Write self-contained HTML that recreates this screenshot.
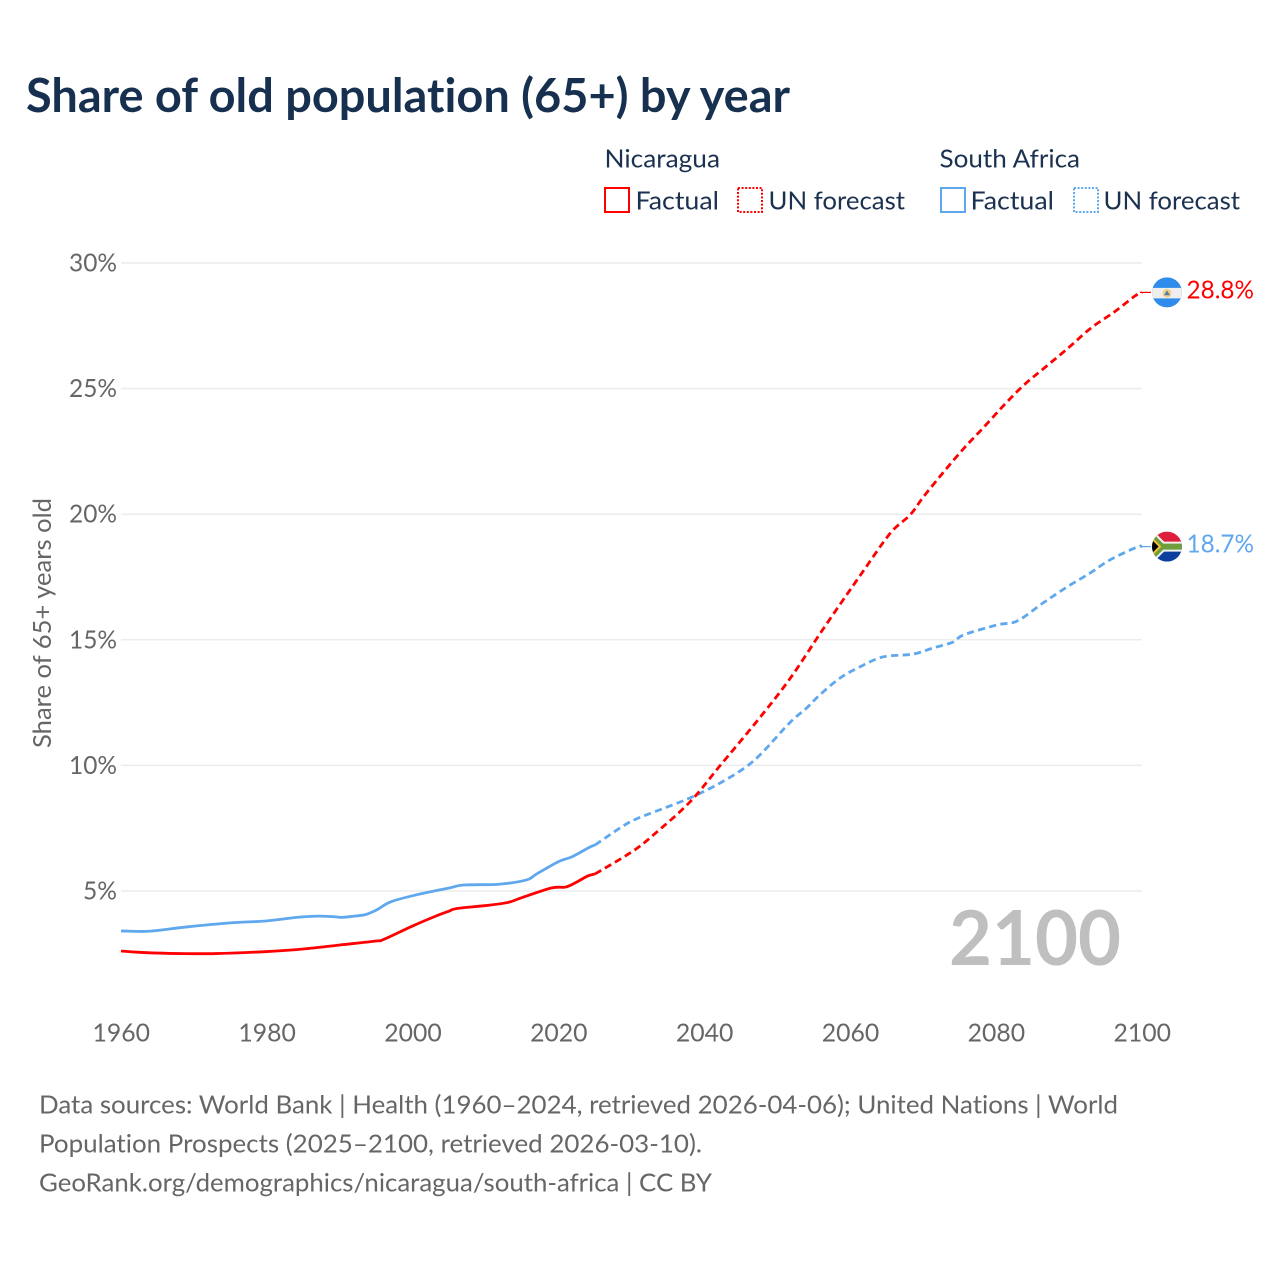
<!DOCTYPE html>
<html lang="en">
<head>
<meta charset="utf-8">
<title>Share of old population (65+) by year</title>
<style>
html,body{margin:0;padding:0;background:#fff;}
svg{display:block;font-family:"Lato","Carlito","Liberation Sans",sans-serif;font-variant-ligatures:none;}
.ink{fill:#1a3150;}
.muted{fill:#666;}
</style>
</head>
<body>
<svg id="chart" width="1280" height="1280" viewBox="0 0 1280 1280" xmlns="http://www.w3.org/2000/svg">
  <defs>
    <clipPath id="flag-clip"><circle cx="0" cy="0" r="15"></circle></clipPath>
  </defs>
  <rect x="0" y="0" width="1280" height="1280" fill="#fff"></rect>
  <text x="26" y="112" font-size="46.5" font-weight="700" fill="#17304f" textLength="764" lengthAdjust="spacingAndGlyphs">Share of old population (65+) by year</text>

  <g font-size="25.5" class="ink">
    <text x="604.5" y="167.5" textLength="115.5" lengthAdjust="spacingAndGlyphs">Nicaragua</text>
    <text x="939.5" y="167.5" textLength="140.5" lengthAdjust="spacingAndGlyphs">South Africa</text>
    <g>
      <rect x="605" y="188" width="24" height="24" fill="none" stroke="#ff0000" stroke-width="2"></rect>
      <text x="635.5" y="209.5" textLength="83.5" lengthAdjust="spacingAndGlyphs">Factual</text>
    </g>
    <g>
      <rect x="738" y="188" width="24" height="24" fill="none" stroke="#ff0000" stroke-width="2" stroke-dasharray="2 1.6"></rect>
      <text x="768.5" y="209.5" textLength="136.5" lengthAdjust="spacingAndGlyphs">UN forecast</text>
    </g>
    <g>
      <rect x="941" y="188" width="24" height="24" fill="none" stroke="#5fa8ee" stroke-width="2"></rect>
      <text x="970.5" y="209.5" textLength="83.5" lengthAdjust="spacingAndGlyphs">Factual</text>
    </g>
    <g>
      <rect x="1074" y="188" width="24" height="24" fill="none" stroke="#5fa8ee" stroke-width="2" stroke-dasharray="2 1.6"></rect>
      <text x="1103.5" y="209.5" textLength="136.5" lengthAdjust="spacingAndGlyphs">UN forecast</text>
    </g>
  </g>

  <g id="grid"></g>
  <g id="y-ticks" font-size="25.5" class="muted"></g>
  <g id="x-ticks" font-size="25.5" class="muted"></g>
  <text transform="translate(51,748) rotate(-90)" font-size="25.5" class="muted" textLength="250" lengthAdjust="spacingAndGlyphs">Share of 65+ years old</text>
  <text x="949" y="965" font-size="76" font-weight="700" fill="#bfbfbf" textLength="172" lengthAdjust="spacingAndGlyphs">2100</text>

  <g id="series"></g>

  <g id="flag-nicaragua">
    <g clip-path="url(#flag-clip)">
      <rect x="-15" y="-15" width="30" height="30" fill="#2f8ceb"></rect>
      <rect x="-15" y="-4.5" width="30" height="10.5" fill="#eeeeee"></rect>
      <circle cx="0" cy="0.8" r="4.4" fill="#f3cf84"></circle>
      <polygon points="-3,2.8 3,2.8 0,-2" fill="#4d7fa8"></polygon>
    </g>
  </g>
  <g id="flag-south-africa">
    <g clip-path="url(#flag-clip)">
      <rect x="-15" y="-15" width="30" height="15" fill="#de1f3c"></rect>
      <rect x="-15" y="0" width="30" height="15" fill="#0a3f9e"></rect>
      <path d="M-19,-14 L-5,0 L-19,14 M-5,0 L18,0" fill="none" stroke="#f1f1f1" stroke-width="10"></path>
      <path d="M-19,-14 L-5,0 L-19,14 M-5,0 L18,0" fill="none" stroke="#6f9e3e" stroke-width="6"></path>
      <polygon points="-16,-9 -7,0 -16,9" fill="#000" stroke="#f0c52e" stroke-width="2"></polygon>
    </g>
  </g>
  <text id="label-nicaragua" font-size="25.5" fill="#ff0000"></text>
  <text id="label-south-africa" font-size="25.5" fill="#5fa8ee"></text>

  <g font-size="25.5" class="muted">
    <text x="39" y="1113.5" textLength="1079" lengthAdjust="spacingAndGlyphs">Data sources: World Bank | Health (1960–2024, retrieved 2026-04-06); United Nations | World</text>
    <text x="39" y="1152.5" textLength="663" lengthAdjust="spacingAndGlyphs">Population Prospects (2025–2100, retrieved 2026-03-10).</text>
    <text x="39" y="1191.5" textLength="673" lengthAdjust="spacingAndGlyphs">GeoRank.org/demographics/nicaragua/south-africa | CC BY</text>
  </g>
</svg>

<script>
const yTickValues = [5, 10, 15, 20, 25, 30];
const xTickValues = [1960, 1980, 2000, 2020, 2040, 2060, 2080, 2100];

const nicaraguaFactualYears = [1960, 1962, 1965, 1968, 1973, 1980, 1985, 1990, 1995, 1996, 2000, 2003, 2005, 2006, 2010, 2013, 2015, 2019, 2021, 2022.5, 2024, 2025];
const nicaraguaFactualValues = [2.61, 2.57, 2.53, 2.51, 2.51, 2.59, 2.69, 2.85, 3.01, 3.07, 3.61, 3.98, 4.2, 4.3, 4.42, 4.54, 4.74, 5.12, 5.16, 5.36, 5.6, 5.68];
const nicaraguaForecastYears = [2025, 2030, 2033, 2038, 2042, 2047, 2051.6, 2056, 2059, 2061.6, 2065.5, 2068.2, 2070, 2072.8, 2075.6, 2078.2, 2081.1, 2083.8, 2086.6, 2089.9, 2093, 2096.2, 2099, 2100];
const nicaraguaForecastValues = [5.68, 6.55, 7.23, 8.54, 9.94, 11.69, 13.4, 15.31, 16.58, 17.66, 19.25, 19.97, 20.68, 21.68, 22.63, 23.43, 24.35, 25.14, 25.82, 26.62, 27.41, 28.05, 28.68, 28.83];

const southAfricaFactualYears = [1960, 1963, 1965, 1969, 1975, 1980, 1984.4, 1987, 1989, 1990.3, 1992, 1993.5, 1995, 1997, 2000.4, 2005, 2007, 2011.8, 2015.6, 2017, 2020, 2021.9, 2024.3, 2025];
const southAfricaFactualValues = [3.41, 3.39, 3.43, 3.57, 3.73, 3.81, 3.96, 4.0, 3.98, 3.95, 4.0, 4.06, 4.24, 4.57, 4.84, 5.12, 5.24, 5.27, 5.44, 5.68, 6.17, 6.37, 6.75, 6.83];
const southAfricaForecastYears = [2025, 2028.7, 2031, 2035.6, 2038.9, 2042.4, 2045.7, 2048, 2051.7, 2054, 2055.8, 2058.6, 2061.3, 2064.5, 2068.6, 2071.3, 2074.1, 2075.5, 2080.1, 2082.9, 2086.4, 2089.7, 2092.9, 2095.6, 2099.3, 2100];
const southAfricaForecastValues = [6.83, 7.56, 7.91, 8.42, 8.82, 9.34, 9.94, 10.53, 11.7, 12.28, 12.8, 13.48, 13.92, 14.32, 14.43, 14.67, 14.91, 15.19, 15.59, 15.75, 16.46, 17.1, 17.66, 18.18, 18.69, 18.71];

const NS = 'http://www.w3.org/2000/svg';
const plotLeft = 121, plotRight = 1142;
const xScale = year => plotLeft + (year - 1960) * (plotRight - plotLeft) / 140;
const yScale = value => 891 - (value - 5) * 25.12;
const make = (tag, parent) => parent.appendChild(document.createElementNS(NS, tag));

function smoothPath(years, values) {
  const pts = years.map((year, i) => [xScale(year), yScale(values[i])]);
  let d = 'M' + pts[0][0].toFixed(2) + ',' + pts[0][1].toFixed(2);
  for (let i = 0; i < pts.length - 1; i++) {
    const p0 = pts[Math.max(i - 1, 0)], p1 = pts[i], p2 = pts[i + 1], p3 = pts[Math.min(i + 2, pts.length - 1)];
    const c1x = p1[0] + (p2[0] - p0[0]) / 6, c1y = p1[1] + (p2[1] - p0[1]) / 6;
    const c2x = p2[0] - (p3[0] - p1[0]) / 6, c2y = p2[1] - (p3[1] - p1[1]) / 6;
    d += 'C' + c1x.toFixed(2) + ',' + c1y.toFixed(2) + ' ' + c2x.toFixed(2) + ',' + c2y.toFixed(2) + ' ' + p2[0].toFixed(2) + ',' + p2[1].toFixed(2);
  }
  return d;
}

const grid = document.getElementById('grid');
const yTicks = document.getElementById('y-ticks');
yTickValues.forEach(value => {
  const line = make('line', grid);
  
  
  line.setAttribute('x1', plotLeft);
  line.setAttribute('x2', plotRight);
  line.setAttribute('y1', yScale(value));
  line.setAttribute('y2', yScale(value));
  line.setAttribute('stroke', '#ececec');
  line.setAttribute('stroke-width', '1.5');
  const label = make('text', yTicks);
  
  
  const text = value + '%';
  label.textContent = text;
  const width = text.length === 3 ? 48 : 34;
  label.setAttribute('x', 117 - width);
  label.setAttribute('y', yScale(value) + 8.5);
  label.setAttribute('textLength', width);
  label.setAttribute('lengthAdjust', 'spacingAndGlyphs');
});

const xTicks = document.getElementById('x-ticks');
xTickValues.forEach(year => {
  const label = make('text', xTicks);
  
  
  label.textContent = String(year);
  label.setAttribute('x', xScale(year) - 28.5);
  label.setAttribute('y', 1041.5);
  label.setAttribute('textLength', 57.5);
  label.setAttribute('lengthAdjust', 'spacingAndGlyphs');
});

const seriesGroup = document.getElementById('series');
function drawLine(years, values, color, dashed, name) {
  const line = make('path', seriesGroup);
  
  
  line.setAttribute('d', smoothPath(years, values));
  line.setAttribute('fill', 'none');
  line.setAttribute('stroke', color);
  line.setAttribute('stroke-width', '2.8');
  line.setAttribute('stroke-linejoin', 'round');
  if (dashed) line.setAttribute('stroke-dasharray', '7.2 4.3');
}
const seriesRed = '#ff0000', seriesBlue = '#5fa8ee';
drawLine(southAfricaForecastYears, southAfricaForecastValues, seriesBlue, true, 'line-south-africa-forecast');
drawLine(nicaraguaForecastYears, nicaraguaForecastValues, seriesRed, true, 'line-nicaragua-forecast');
drawLine(southAfricaFactualYears, southAfricaFactualValues, seriesBlue, false, 'line-south-africa-factual');
drawLine(nicaraguaFactualYears, nicaraguaFactualValues, seriesRed, false, 'line-nicaragua-factual');

function drawEnd(value, color, flagId, labelId, tailName) {
  const y = yScale(value);
  const tail = make('line', seriesGroup);
  
  
  tail.setAttribute('x1', plotRight - 2);
  tail.setAttribute('x2', plotRight + 9);
  tail.setAttribute('y1', y);
  tail.setAttribute('y2', y);
  tail.setAttribute('stroke', color);
  tail.setAttribute('stroke-width', '1.2');
  document.getElementById(flagId).setAttribute('transform', 'translate(1167,' + y + ')');
  const label = document.getElementById(labelId);
  label.textContent = value.toFixed(1) + '%';
  label.setAttribute('x', 1186.5);
  label.setAttribute('y', y + 6);
  label.setAttribute('textLength', 67.5);
  label.setAttribute('lengthAdjust', 'spacingAndGlyphs');
}
drawEnd(nicaraguaForecastValues[nicaraguaForecastValues.length - 1], seriesRed, 'flag-nicaragua', 'label-nicaragua', 'leader-nicaragua');
drawEnd(southAfricaForecastValues[southAfricaForecastValues.length - 1], seriesBlue, 'flag-south-africa', 'label-south-africa', 'leader-south-africa');
</script>
</body>
</html>
